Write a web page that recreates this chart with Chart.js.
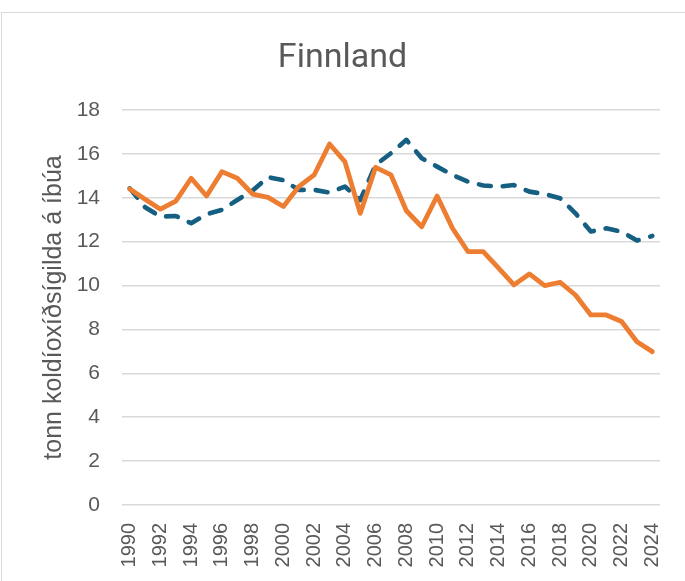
<!DOCTYPE html>
<html>
<head>
<meta charset="utf-8">
<script src="https://cdn.jsdelivr.net/npm/chart.js@4"></script>
<style>
html,body{margin:0;padding:0;background:#fff;}
#wrap{position:relative;width:685px;height:581px;overflow:hidden;}
#frame{position:absolute;left:1px;top:12px;width:720px;height:640px;border:1.5px solid #d9d9d9;box-sizing:border-box;}
canvas{position:absolute;left:0;top:0;}
</style>
</head>
<body>
<div id="wrap">
<div id="frame"></div>
<canvas id="c" width="685" height="581"></canvas>
</div>
<script>
const years = [1990,1991,1992,1993,1994,1995,1996,1997,1998,1999,2000,2001,2002,2003,2004,2005,2006,2007,2008,2009,2010,2011,2012,2013,2014,2015,2016,2017,2018,2019,2020,2021,2022,2023,2024];
const orangeSeries = [14.4,13.93,13.48,13.85,14.89,14.08,15.19,14.89,14.17,14.02,13.6,14.51,15.04,16.45,15.65,13.29,15.39,15.04,13.41,12.68,14.08,12.61,11.55,11.55,10.79,10.03,10.53,10.0,10.15,9.57,8.66,8.66,8.36,7.44,6.99];
const blueSeries = [14.43,13.57,13.14,13.17,12.84,13.25,13.45,13.9,14.33,14.94,14.8,14.36,14.36,14.24,14.51,13.9,15.5,16.03,16.64,15.8,15.42,15.04,14.74,14.56,14.51,14.58,14.28,14.17,13.98,13.29,12.46,12.61,12.46,12.05,12.26];
const yTicks = [0,2,4,6,8,10,12,14,16,18];
const titleText = "Finnland";
const yTitle = "tonn koldíoxíðsígilda á íbúa";

const grey = '#595959';
new Chart(document.getElementById('c'), {
  type: 'line',
  data: {
    labels: years.map(String),
    datasets: [
      {data: orangeSeries, borderColor: '#ED7D31', borderWidth: 4.8, pointRadius: 0, tension: 0, borderCapStyle: 'round', borderJoinStyle: 'round', order: 1},
      {data: blueSeries, borderColor: '#156082', borderWidth: 4.6, pointRadius: 0, tension: 0, borderDash: [12, 12], borderCapStyle: 'round', borderJoinStyle: 'round', order: 2}
    ]
  },
  options: {
    responsive: false,
    animation: false,
    devicePixelRatio: 1,
    layout: {padding: {left: 0, right: 0, top: 0, bottom: 0}},
    plugins: {
      legend: {display: false},
      tooltip: {enabled: false},
      title: {display: true, text: titleText, color: grey, font: {family: "Roboto", size: 34, weight: 'normal', lineHeight: 1.2}, padding: {top: 38, bottom: 31.2}}
    },
    scales: {
      x: {
        type: 'category',
        offset: true,
        grid: {display: false, drawTicks: false},
        border: {display: false},
        afterFit: (s) => { s.height = 76; s.paddingLeft = 0; s.paddingRight = 0; },
        ticks: {color: grey, font: {family: "'Liberation Sans'", size: 20}, autoSkip: false, maxRotation: 90, minRotation: 90, padding: 18,
          callback: function(v, i){ return i % 2 === 0 ? this.getLabelForValue(v) : ''; }}
      },
      y: {
        min: 0, max: 18,
        afterBuildTicks: (s) => { s.ticks = yTicks.map(v => ({value: v})); },
        afterFit: (s) => { s.width = 122; },
        grid: {color: '#d9d9d9', lineWidth: 1.5, drawTicks: false},
        border: {display: false},
        ticks: {color: grey, font: {family: "'Liberation Sans'", size: 21}, padding: 22},
        title: {display: true, text: yTitle, color: grey, font: {family: "'Liberation Sans'", size: 25}, padding: {top: 39, bottom: 0}}
      },
      yRight: {
        position: 'right',
        display: true,
        grid: {display: false, drawTicks: false},
        border: {display: false},
        ticks: {display: false},
        afterFit: (s) => { s.width = 25; }
      }
    }
  }
});
</script>
</body>
</html>
